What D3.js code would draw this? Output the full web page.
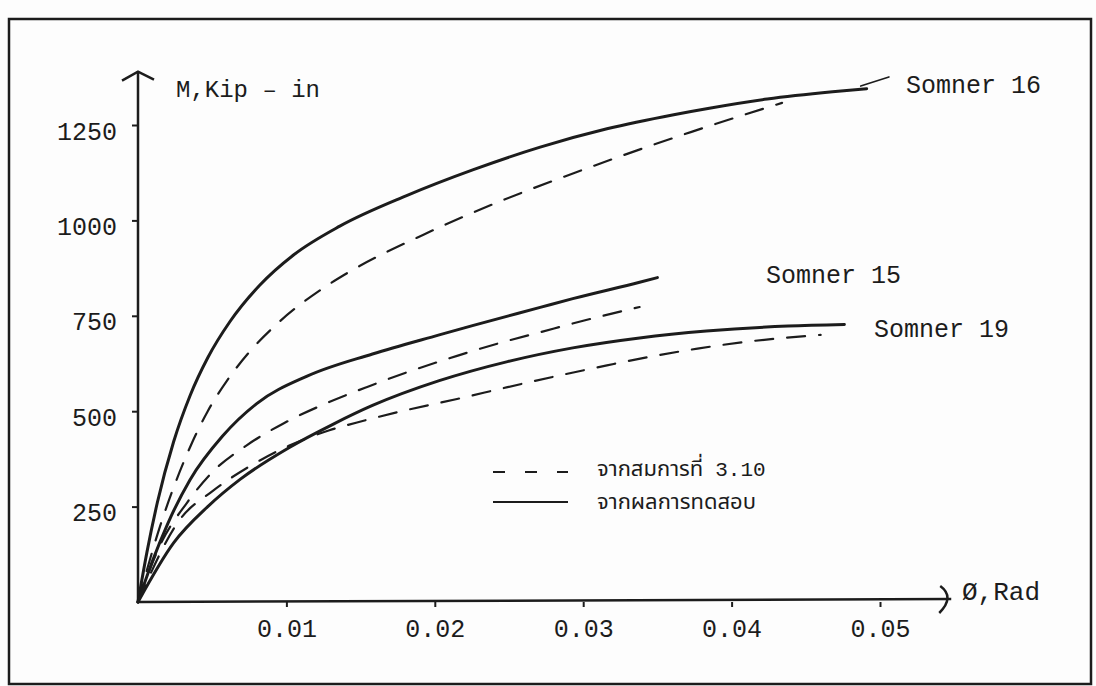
<!DOCTYPE html>
<html>
<head>
<meta charset="utf-8">
<script src="https://cdnjs.cloudflare.com/ajax/libs/d3/7.8.5/d3.min.js"></script>
<style>
	body { margin: 0; background: #fdfdfd; }
	#chart svg { display: block; }
	.mono { font-family: "Liberation Mono", "DejaVu Sans Mono", monospace; fill: #1c1c1c; }
	.thai { font-family: "Noto Sans Thai", "Loma", "Garuda", "Noto Sans", "DejaVu Sans", sans-serif; fill: #1c1c1c; }
</style>
</head>
<body>
<div id="chart"></div>
<script>
// values (phi in rad, M in kip-in)
var xTicks = [0.01, 0.02, 0.03, 0.04, 0.05];
var yTicks = [250, 500, 750, 1000, 1250];
var xAxisMax = 0.0548;
var yAxisMax = 1390;

var somner16Test = [[0,0],[0.0006,130],[0.0013,260],[0.0024,420],[0.0035,540],[0.0047,640],[0.0062,735],[0.0082,830],[0.0105,910],[0.0136,985],[0.0181,1065],[0.0226,1133],[0.0271,1192],[0.0316,1240],[0.0361,1277],[0.0385,1294],[0.0424,1318],[0.0468,1337],[0.0491,1345]];
var somner16Eq = [[0,0],[0.0015,200],[0.0024,300],[0.0035,405],[0.0047,500],[0.006,580],[0.0075,655],[0.0094,730],[0.0123,818],[0.0141,862],[0.0192,962],[0.0244,1050],[0.0298,1130],[0.0325,1168],[0.0373,1232],[0.0403,1270],[0.0434,1308]];
var somner16Leader = [[0.0487,1352],[0.0506,1376]];

var somner15Test = [[0,0],[0.001,110],[0.002,205],[0.0035,320],[0.0057,435],[0.008,520],[0.0114,592],[0.0158,650],[0.0203,700],[0.0226,725],[0.0271,772],[0.0293,795],[0.0338,838],[0.035,850]];
var somner15Eq = [[0,0],[0.0015,150],[0.0033,260],[0.005,340],[0.0073,410],[0.0098,468],[0.0127,521],[0.0154,563],[0.0185,607],[0.0215,645],[0.0244,679],[0.0271,707],[0.03,737],[0.0338,773]];

var somner19Test = [[0,0],[0.0024,155],[0.0047,250],[0.0069,322],[0.0102,405],[0.0131,465],[0.0158,515],[0.0203,580],[0.0249,630],[0.0293,666],[0.0338,692],[0.0383,710],[0.0438,723],[0.0476,727]];
var somner19Eq = [[0,0],[0.0028,215],[0.005,290],[0.0075,355],[0.0102,410],[0.0129,450],[0.0152,475],[0.0181,503],[0.0215,532],[0.0249,563],[0.0282,592],[0.0316,620],[0.0344,642],[0.0377,664],[0.041,682],[0.046,700]];

var width = 1096, height = 686;
var ink = "#1c1c1c";

var svg = d3.select("#chart").append("svg")
	.attr("width", width)
	.attr("height", height);

// frame of the scanned figure
svg.append("rect")
	.attr("x", 9).attr("y", 19)
	.attr("width", 1082).attr("height", 665)
	.attr("fill", "none")
	.attr("stroke", ink)
	.attr("stroke-width", 2.5);

var x = d3.scaleLinear().domain([0, 0.05]).range([138, 880]);
var y = d3.scaleLinear().domain([0, 1250]).range([602, 125]);

// axes
var xAxis = svg.append("g")
	.attr("transform", "translate(0," + y(0) + ")")
	.call(d3.axisBottom(x).tickValues(xTicks).tickSize(5).tickPadding(12).tickFormat(d3.format(".2f")));
var yAxis = svg.append("g")
	.attr("transform", "translate(" + x(0) + ",0)")
	.call(d3.axisLeft(y).tickValues(yTicks).tickSize(6).tickPadding(15).tickFormat(d3.format("d")));

[xAxis, yAxis].forEach(function (g) {
	g.select(".domain").remove();
	g.selectAll(".tick line").attr("stroke", ink).attr("stroke-width", 2);
	g.selectAll(".tick text")
		.attr("class", "mono")
		.attr("fill", ink)
		.style("font-size", "25px");
});
yAxis.selectAll(".tick text").attr("y", 6);

svg.append("line")
	.attr("x1", x(0)).attr("y1", y(0))
	.attr("x2", x(xAxisMax)).attr("y2", y(0) - 3)
	.attr("stroke", ink).attr("stroke-width", 2.5);
svg.append("line")
	.attr("x1", x(0)).attr("y1", y(0))
	.attr("x2", x(0)).attr("y2", y(yAxisMax))
	.attr("stroke", ink).attr("stroke-width", 2.5);

// arrow heads
var ax = x(0), ay = y(yAxisMax);
svg.append("path")
	.attr("d", "M" + (ax - 16) + "," + (ay + 9) + "L" + ax + "," + ay + "L" + (ax + 16) + "," + (ay + 8))
	.attr("fill", "none").attr("stroke", ink).attr("stroke-width", 2.5);
var bx = x(xAxisMax), by = y(0) - 3;
svg.append("path")
	.attr("d", "M" + (bx - 11) + "," + (by - 13) + "Q" + (bx + 4) + "," + (by - 2) + " " + (bx - 12) + "," + (by + 14))
	.attr("fill", "none").attr("stroke", ink).attr("stroke-width", 2.5);

svg.append("text").attr("class", "mono")
	.attr("x", 176).attr("y", 97)
	.style("font-size", "24px")
	.text("M,Kip \u2013 in");
svg.append("text").attr("class", "mono")
	.attr("x", 962).attr("y", 600)
	.style("font-size", "26px")
	.text("\u00d8,Rad");

// curves
var line = d3.line()
	.x(function (d) { return x(d[0]); })
	.y(function (d) { return y(d[1]); })
	.curve(d3.curveMonotoneX);

var curves = [
	{ data: somner16Test, dash: null, w: 3 },
	{ data: somner16Eq, dash: "18,14", w: 2.2 },
	{ data: somner15Test, dash: null, w: 3 },
	{ data: somner15Eq, dash: "18,14", w: 2.2 },
	{ data: somner19Test, dash: null, w: 3 },
	{ data: somner19Eq, dash: "18,14", w: 2.2 },
	{ data: somner16Leader, dash: null, w: 1.6 }
];

svg.selectAll("path.curve")
	.data(curves)
	.enter()
	.append("path")
	.attr("class", "curve")
	.attr("d", function (d) { return line(d.data); })
	.attr("fill", "none")
	.attr("stroke", ink)
	.attr("stroke-width", function (d) { return d.w; })
	.attr("stroke-dasharray", function (d) { return d.dash; })
	.attr("stroke-linecap", "round");

// curve labels
var labels = [
	{ text: "Somner 16", x: 906, y: 93 },
	{ text: "Somner 15", x: 766, y: 283 },
	{ text: "Somner 19", x: 874, y: 337 }
];
svg.selectAll("text.curve-label")
	.data(labels)
	.enter()
	.append("text")
	.attr("class", "curve-label mono")
	.attr("x", function (d) { return d.x; })
	.attr("y", function (d) { return d.y; })
	.style("font-size", "25px")
	.text(function (d) { return d.text; });

// legend
svg.append("line")
	.attr("x1", 493).attr("y1", 472).attr("x2", 568).attr("y2", 472)
	.attr("stroke", ink).attr("stroke-width", 2.2)
	.attr("stroke-dasharray", "12,20");
svg.append("line")
	.attr("x1", 493).attr("y1", 502).attr("x2", 568).attr("y2", 502)
	.attr("stroke", ink).attr("stroke-width", 2.2);

var leg1 = svg.append("text").attr("class", "thai")
	.attr("x", 597).attr("y", 476)
	.style("font-size", "22px")
	.text("จากสมการที่");
var leg1End = 597 + leg1.node().getComputedTextLength();
svg.append("text").attr("class", "mono")
	.attr("x", leg1End + 12).attr("y", 476)
	.style("font-size", "21px")
	.text("3.10");

svg.append("text").attr("class", "thai")
	.attr("x", 597).attr("y", 509)
	.style("font-size", "22px")
	.text("จากผลการทดสอบ");
</script>
</body>
</html>
